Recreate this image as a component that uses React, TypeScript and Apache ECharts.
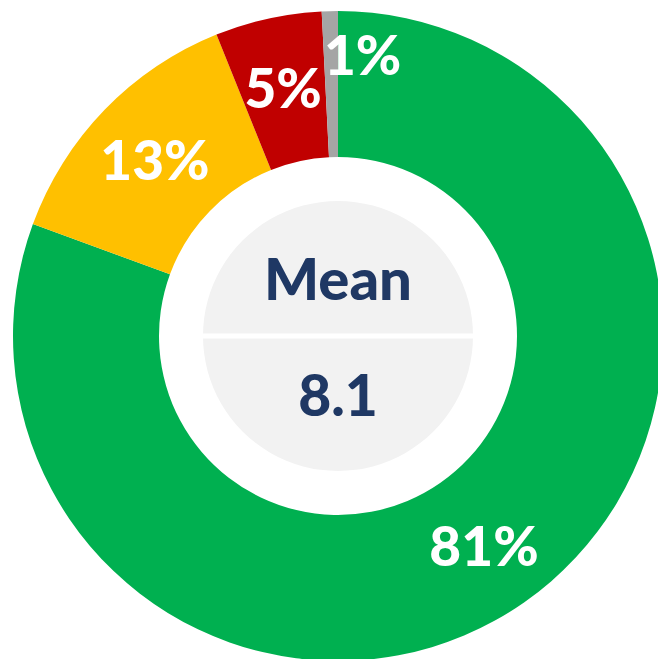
import React, { useEffect, useRef } from "react";
import * as echarts from "echarts";

const categories = ["Positive", "Neutral", "Negative", "No answer"];
const values = [80.6, 13.3, 5.3, 0.8];
const colors = ["#00B050", "#FFC000", "#C00000", "#A5A5A5"];
const centerTitle = "Mean";
const centerValue = "8.1";

export default function App() {
  const ref = useRef<HTMLDivElement>(null);
  useEffect(() => {
    const chart = echarts.init(ref.current!, null, { renderer: "svg" });
    const cx = 338;
    const cy = 336;
    chart.setOption({
      animation: false,
      backgroundColor: "#ffffff",
      series: [
        {
          type: "pie",
          center: [cx, cy],
          radius: [179, 325],
          startAngle: 90,
          clockwise: true,
          silent: true,
          data: categories.map((c, i) => ({
            name: c,
            value: values[i],
            itemStyle: { color: colors[i] },
          })),
          label: {
            show: true,
            position: "inside",
            color: "#ffffff",
            fontFamily: "Lato",
            fontWeight: 900,
            fontSize: 55,
            formatter: (p: any) => Math.round(p.percent) + "%",
          },
          labelLine: { show: false },
          labelLayout: (p: any) =>
            p.dataIndex === 3 ? { dx: 31, dy: -27 } : {},
        },
      ],
      graphic: [
        {
          type: "circle",
          shape: { cx, cy, r: 135 },
          style: { fill: "#F2F2F2" },
          z: 10,
        },
        {
          type: "rect",
          shape: { x: cx - 140, y: cy - 2.5, width: 280, height: 5 },
          style: { fill: "#ffffff" },
          z: 11,
        },
        {
          type: "text",
          x: cx,
          y: 277,
          style: {
            text: centerTitle,
            fill: "#1F3864",
            font: "900 58px Lato",
            textAlign: "center",
            textVerticalAlign: "middle",
          },
          z: 12,
        },
        {
          type: "text",
          x: cx,
          y: 394,
          style: {
            text: centerValue,
            fill: "#1F3864",
            font: "900 57px Lato",
            textAlign: "center",
            textVerticalAlign: "middle",
          },
          z: 12,
        },
      ],
    });
    return () => chart.dispose();
  }, []);
  return (
    <div
      ref={ref}
      style={{ position: "fixed", left: 0, top: 0, width: 658, height: 659 }}
    />
  );
}
